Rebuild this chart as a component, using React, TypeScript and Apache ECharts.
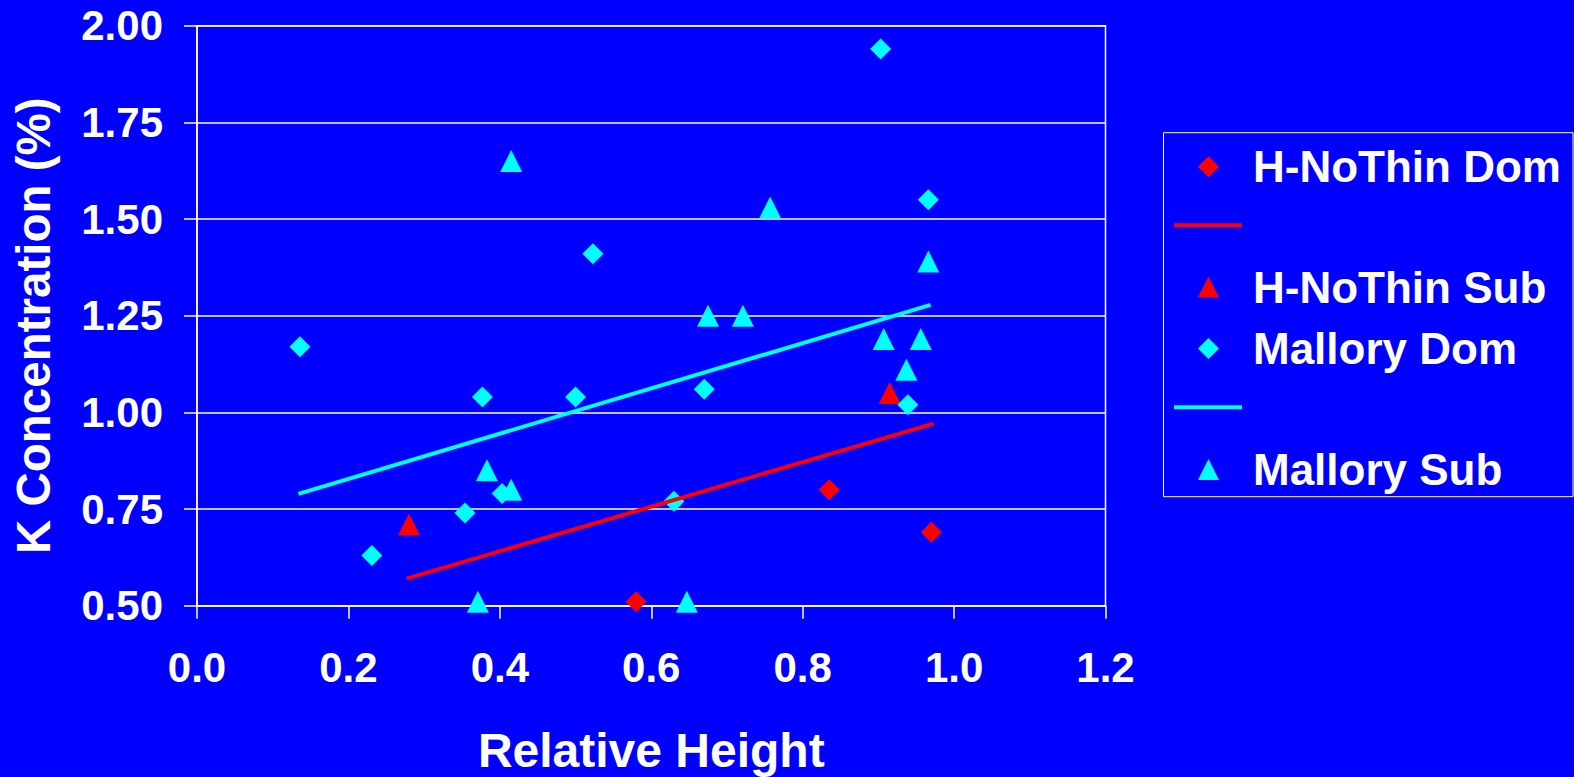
import React, { useEffect, useRef } from 'react';
import * as echarts from 'echarts';

// Data
const hNoThinDom: number[][] = [[0.58, 0.51], [0.835, 0.80], [0.97, 0.69]];
const hNoThinSub: number[][] = [[0.28, 0.71], [0.915, 1.05]];
const malloryDom: number[][] = [
  [0.136, 1.17], [0.231, 0.63], [0.354, 0.74], [0.377, 1.04], [0.403, 0.79], [0.50, 1.04],
  [0.523, 1.41], [0.63, 0.77], [0.67, 1.06], [0.903, 1.94], [0.939, 1.02], [0.966, 1.55],
];
const mallorySub: number[][] = [
  [0.371, 0.51], [0.383, 0.85], [0.415, 0.80], [0.415, 1.65], [0.647, 0.51], [0.675, 1.25],
  [0.721, 1.25], [0.757, 1.53], [0.907, 1.19], [0.937, 1.11], [0.956, 1.19], [0.966, 1.39],
];
const hNoThinTrend: number[][] = [[0.277, 0.570], [0.973, 0.971]];
const malloryTrend: number[][] = [[0.134, 0.789], [0.969, 1.278]];

const xTicks = { min: 0, max: 1.2, interval: 0.2 };
const yTicks = { min: 0.5, max: 2.0, interval: 0.25 };

const RED = '#FF0000';
const CYAN = '#00FFFF';
const WHITE = '#FFFFFF';
const FONT = "'Liberation Sans', Arial, sans-serif";

export default function App() {
  const ref = useRef<HTMLDivElement>(null);
  useEffect(() => {
    if (!ref.current) return;
    const chart = echarts.init(ref.current, null, { renderer: 'svg' });
    const legendText = {
      color: WHITE,
      fontSize: 44,
      fontWeight: 'bold' as const,
      fontFamily: FONT,
      lineHeight: 44,
      padding: [0, 0, 0, 29],
    };
    const mkLegend = (name: string, icon: string, top: number, isLine: boolean) => ({
      show: true,
      orient: 'horizontal',
      left: isLine ? 1174 : 1198,
      top,
      padding: 0,
      itemWidth: isLine ? 68 : 21,
      itemHeight: isLine ? 4 : 21,
      selectedMode: false,
      data: [{ name, icon }],
      formatter: isLine ? () => '' : (n: string) => n,
      textStyle: legendText,
    });
    chart.setOption({
      animation: false,
      backgroundColor: '#0000FF',
      grid: {
        left: 197,
        right: 468.5,
        top: 25.7,
        bottom: 171.3,
        show: true,
        borderColor: WHITE,
        borderWidth: 1.5,
        containLabel: false,
        outerBoundsMode: 'none',
      },
      xAxis: {
        type: 'value',
        min: xTicks.min,
        max: xTicks.max,
        interval: xTicks.interval,
        name: 'Relative Height',
        nameLocation: 'middle',
        nameGap: 121,
        nameTextStyle: { color: WHITE, fontSize: 48, fontWeight: 'bold', fontFamily: FONT, lineHeight: 48 },
        axisLine: { show: true, lineStyle: { color: WHITE, width: 1.5 } },
        axisTick: { show: true, inside: false, length: 13, lineStyle: { color: WHITE, width: 1.5 } },
        splitLine: { show: false },
        axisLabel: {
          color: WHITE,
          fontSize: 42,
          fontWeight: 'bold',
          fontFamily: FONT,
          margin: 41,
          formatter: (v: number) => v.toFixed(1),
        },
      },
      yAxis: {
        type: 'value',
        min: yTicks.min,
        max: yTicks.max,
        interval: yTicks.interval,
        name: 'K Concentration (%)',
        nameLocation: 'middle',
        nameRotate: 90,
        nameGap: 140,
        nameTextStyle: {
          color: WHITE, fontSize: 47.5, fontWeight: 'bold', fontFamily: FONT, lineHeight: 47.5,
          padding: [0, 20, 0, 0],
        },
        axisLine: { show: true, lineStyle: { color: WHITE, width: 1.5 } },
        axisTick: { show: true, inside: false, length: 13, lineStyle: { color: WHITE, width: 1.5 } },
        splitLine: { show: true, lineStyle: { color: WHITE, width: 1.5 } },
        axisLabel: {
          color: WHITE,
          fontSize: 42,
          fontWeight: 'bold',
          fontFamily: FONT,
          margin: 34,
          formatter: (v: number) => v.toFixed(2),
        },
      },
      legend: [
        mkLegend('H-NoThin Dom', 'diamond', 144.7, false),
        mkLegend('H-NoThin Dom trend', 'rect', 223.3, true),
        mkLegend('H-NoThin Sub', 'triangle', 265, false),
        mkLegend('Mallory Dom', 'diamond', 326.5, false),
        mkLegend('Mallory Dom trend', 'rect', 405.3, true),
        mkLegend('Mallory Sub', 'triangle', 447.5, false),
      ],
      graphic: [
        {
          type: 'rect',
          shape: { x: 1163.5, y: 132.7, width: 409.5, height: 364 },
          style: { fill: 'none', stroke: WHITE, lineWidth: 1 },
          silent: true,
        },
      ],
      series: [
        {
          name: 'H-NoThin Dom trend',
          type: 'line',
          data: hNoThinTrend,
          showSymbol: false,
          symbol: 'none',
          itemStyle: { color: RED },
          lineStyle: { color: RED, width: 4 },
          silent: true,
        },
        {
          name: 'Mallory Dom trend',
          type: 'line',
          data: malloryTrend,
          showSymbol: false,
          symbol: 'none',
          itemStyle: { color: CYAN },
          lineStyle: { color: CYAN, width: 4 },
          silent: true,
        },
        {
          name: 'H-NoThin Dom',
          type: 'scatter',
          symbol: 'diamond',
          symbolSize: 21,
          data: hNoThinDom,
          itemStyle: { color: RED, opacity: 1 },
        },
        {
          name: 'H-NoThin Sub',
          type: 'scatter',
          symbol: 'triangle',
          symbolSize: 22,
          data: hNoThinSub,
          itemStyle: { color: RED, opacity: 1 },
        },
        {
          name: 'Mallory Dom',
          type: 'scatter',
          symbol: 'diamond',
          symbolSize: 21,
          data: malloryDom,
          itemStyle: { color: CYAN, opacity: 1 },
        },
        {
          name: 'Mallory Sub',
          type: 'scatter',
          symbol: 'triangle',
          symbolSize: 22,
          data: mallorySub,
          itemStyle: { color: CYAN, opacity: 1 },
        },
      ],
    });
    return () => chart.dispose();
  }, []);
  return (
    <div
      ref={ref}
      style={{ position: 'fixed', left: 0, top: 0, width: 1574, height: 777, background: '#0000FF' }}
    />
  );
}
